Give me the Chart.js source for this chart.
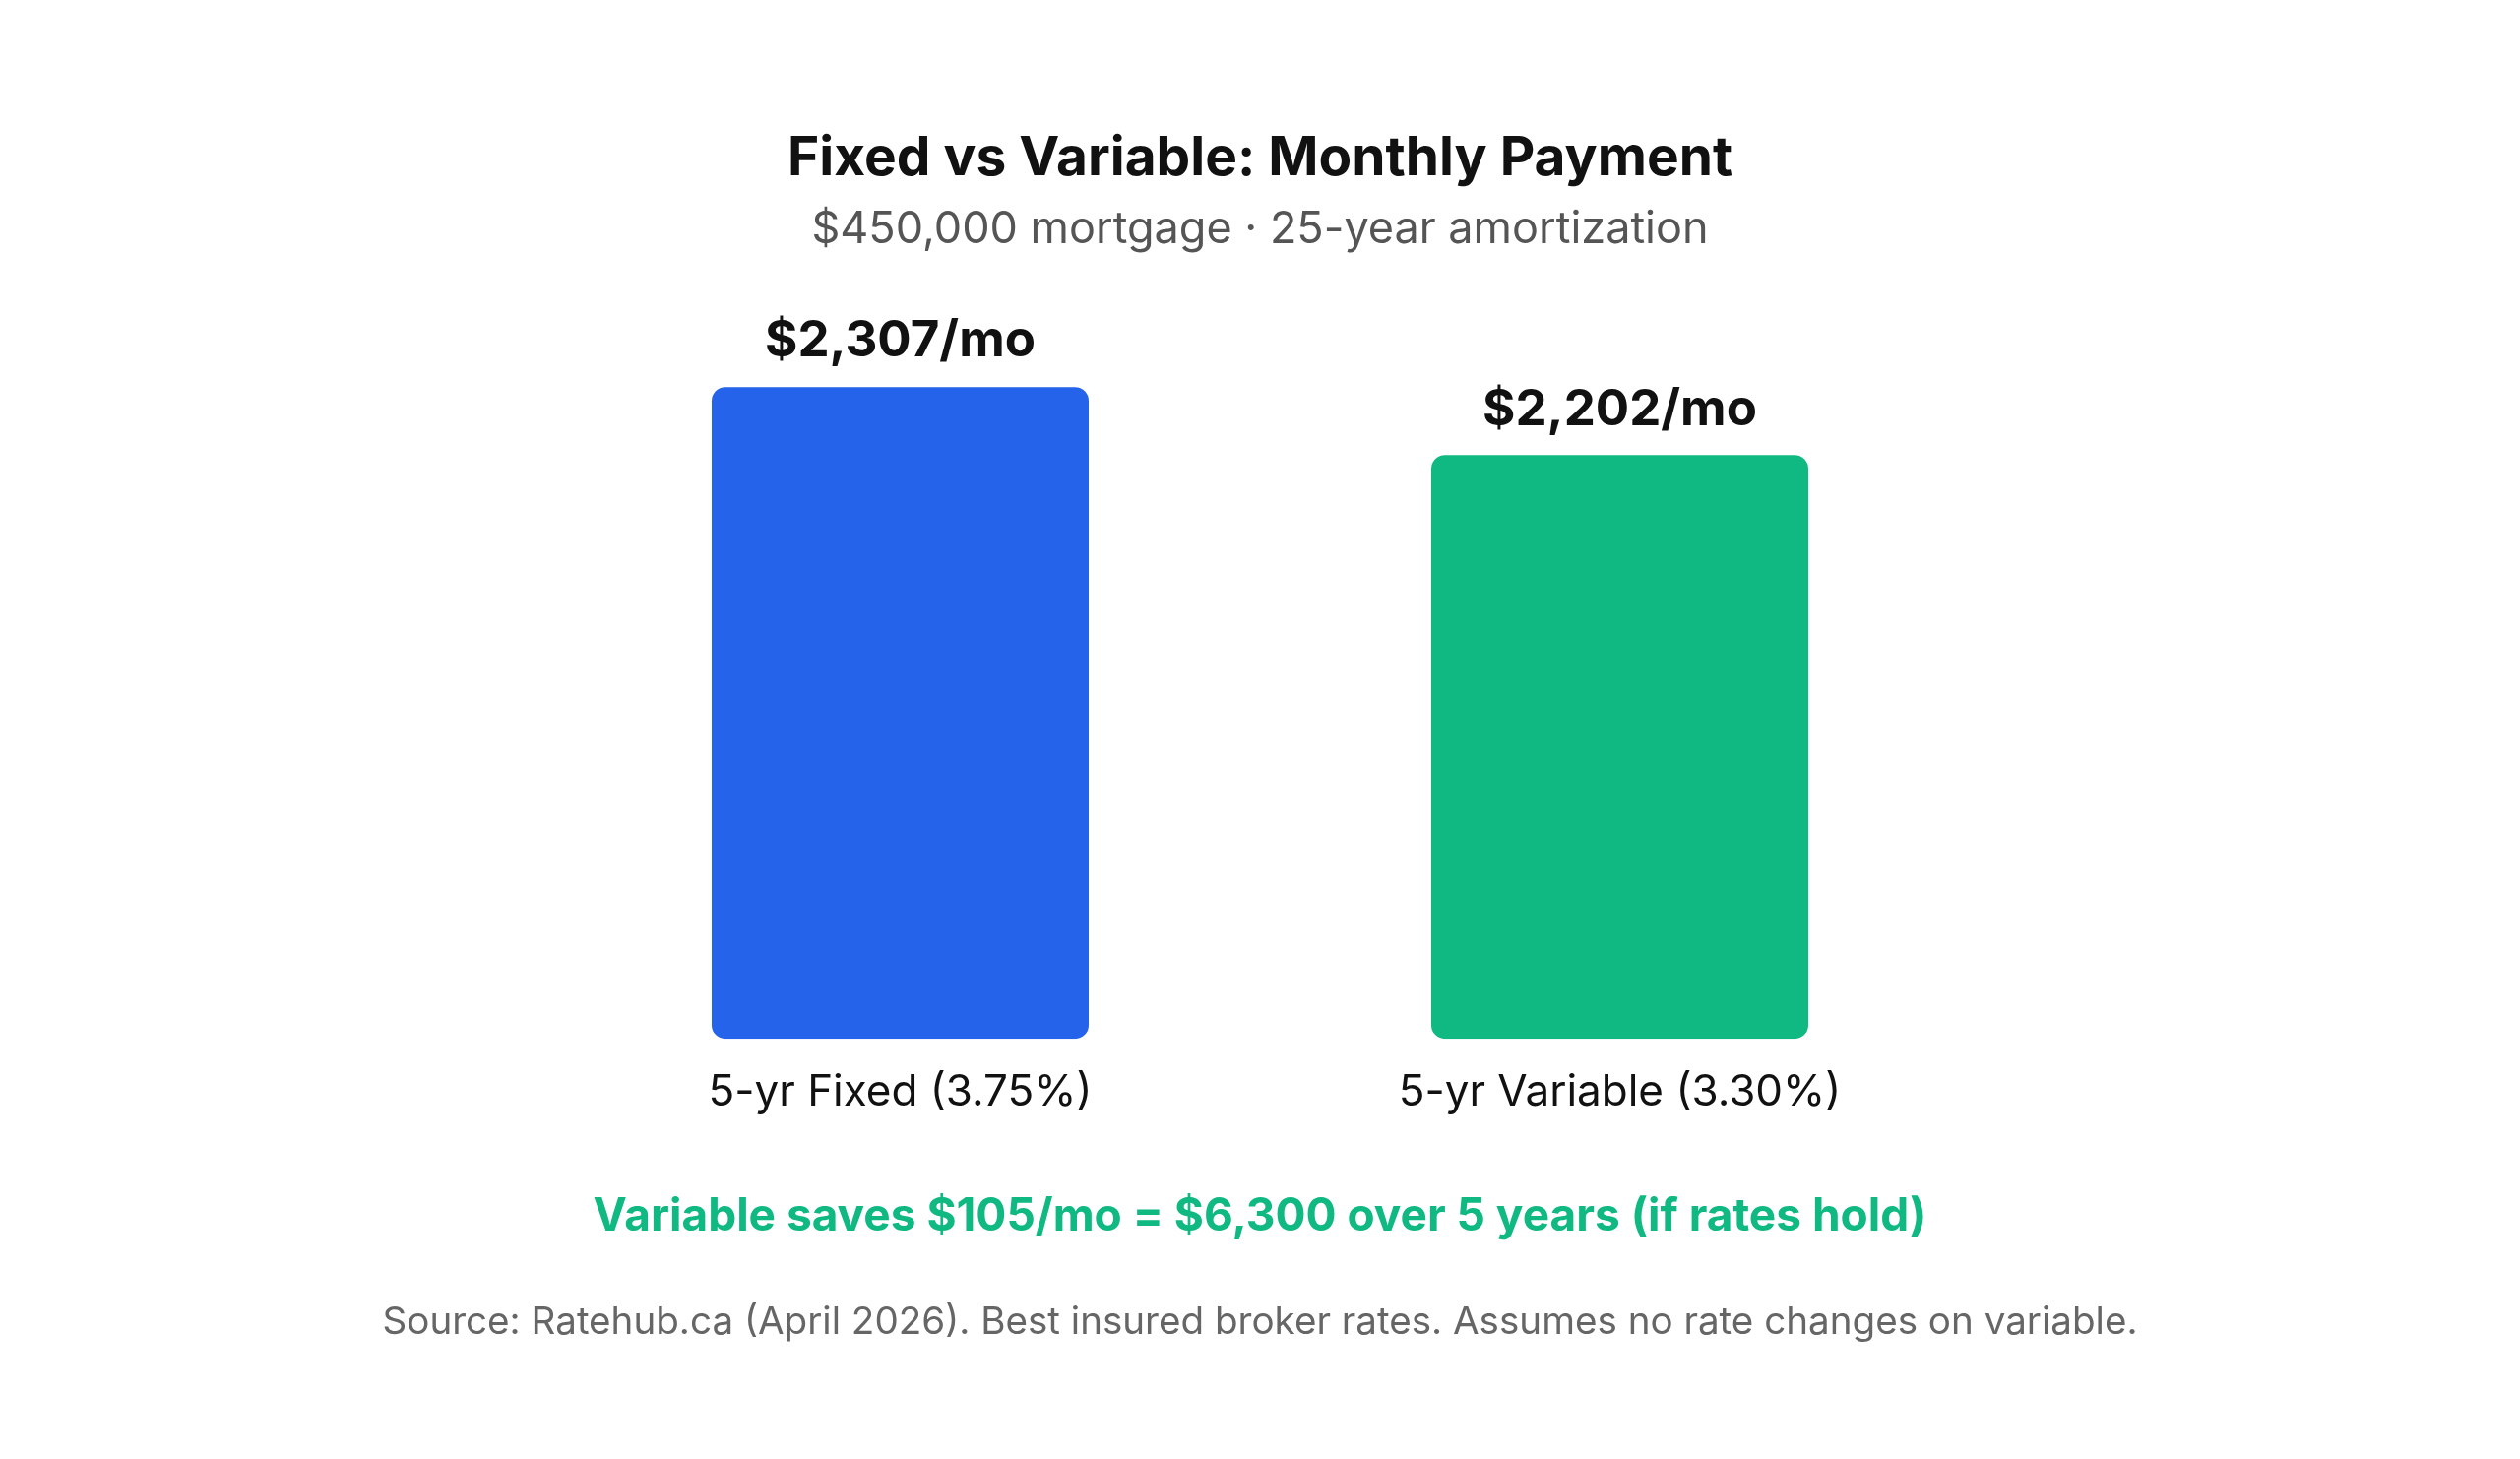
<!DOCTYPE html>
<html>
<head>
<meta charset="utf-8">
<script src="https://cdn.jsdelivr.net/npm/chart.js@4.4.1/dist/chart.umd.min.js"></script>
<style>
  html, body { margin: 0; padding: 0; background: #ffffff; }
  #wrap { width: 2560px; height: 1482px; }
</style>
</head>
<body>
<div id="wrap"><canvas id="payChart" width="2560" height="1482"></canvas></div>
<script>
// data
const categories = ["5-yr Fixed (3.75%)", "5-yr Variable (3.30%)"];
const payments = [2307, 2202];
const barColors = ["#2563eb", "#10b981"];
const axisMin = 1300;
const axisMax = 2400;

const titleText = "Fixed vs Variable: Monthly Payment";
const subtitleText = "$450,000 mortgage \u00b7 25-year amortization";
const savingsText = "Variable saves $105/mo = $6,300 over 5 years (if rates hold)";
const sourceText = "Source: Ratehub.ca (April 2026). Best insured broker rates. Assumes no rate changes on variable.";

const FONT = "Inter, 'Noto Sans', 'Liberation Sans', sans-serif";

// draws the heading, the value labels and the footer notes
const textPlugin = {
  id: "textPlugin",
  afterDraw(chart) {
    const ctx = chart.ctx;
    const cx = chart.width / 2;
    ctx.save();
    ctx.textAlign = "center";
    ctx.textBaseline = "middle";

    ctx.fillStyle = "#111111";
    ctx.font = "bold 55px " + FONT;
    ctx.fillText(titleText, cx, 161);

    ctx.fillStyle = "#555555";
    ctx.font = "45px " + FONT;
    ctx.fillText(subtitleText, cx, 233);

    // value labels above bars
    const meta = chart.getDatasetMeta(0);
    ctx.fillStyle = "#111111";
    ctx.font = "bold 51px " + FONT;
    meta.data.forEach((bar, i) => {
      const v = payments[i];
      ctx.fillText("$" + v.toLocaleString("en-US") + "/mo", bar.x, bar.y - 46);
    });

    ctx.fillStyle = "#10b981";
    ctx.font = "bold 46px " + FONT;
    ctx.fillText(savingsText, cx, 1236);

    ctx.fillStyle = "#666666";
    ctx.font = "38.6px " + FONT;
    ctx.fillText(sourceText, cx, 1343);
    ctx.restore();
  }
};

new Chart(document.getElementById("payChart"), {
  type: "bar",
  data: {
    labels: categories,
    datasets: [{
      data: payments,
      base: axisMin,
      backgroundColor: barColors,
      borderRadius: { topLeft: 14, topRight: 14, bottomLeft: 14, bottomRight: 14 },
      borderSkipped: false,
      barPercentage: 1,
      categoryPercentage: 0.524
    }]
  },
  options: {
    responsive: false,
    animation: false,
    layout: { padding: { left: 549, right: 549, top: 332, bottom: 318 } },
    plugins: {
      legend: { display: false },
      tooltip: { enabled: false }
    },
    scales: {
      x: {
        grid: { display: false, drawTicks: false },
        border: { display: false },
        ticks: { color: "#111111", font: { size: 44, family: FONT }, padding: 28 }
      },
      y: {
        display: false,
        min: axisMin,
        max: axisMax
      }
    }
  },
  plugins: [textPlugin]
});
</script>
</body>
</html>
